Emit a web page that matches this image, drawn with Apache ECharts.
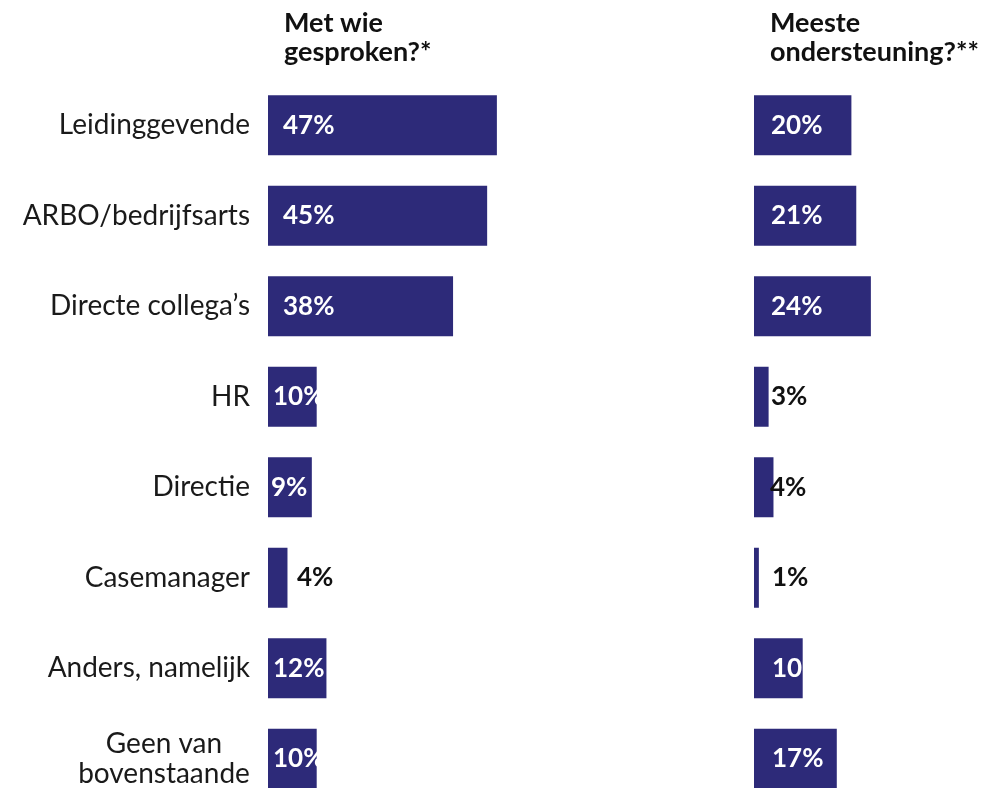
<!DOCTYPE html>
<html>
<head>
<meta charset="utf-8">
<style>
  html, body { margin: 0; padding: 0; background: #fff; overflow: hidden; }
  #main { width: 991px; height: 804px; }
</style>
<script src="https://cdn.jsdelivr.net/npm/echarts@6/dist/echarts.min.js"></script>
</head>
<body>
<div id="main"></div>
<script>
  // categorieën en waarden
  var categories = ['Leidinggevende', 'ARBO/bedrijfsarts', 'Directe collega\u2019s', 'HR',
    'Directie', 'Casemanager', 'Anders, namelijk', 'Geen van\nbovenstaande'];
  var gesproken = [47, 45, 38, 10, 9, 4, 12, 10];
  var ondersteuning = [20, 21, 24, 3, 4, 1, 10, 17];
  var titleLeft = 'Met wie\ngesproken?*';
  var titleRight = 'Meeste\nondersteuning?**';

  // label x-positie binnen/naast de balk
  var labelXLeft = [15, 15, 15, 5, 3, 29, 5, 5];
  var labelXRight = [17, 17, 17, 17, 16, 18, 18, 18];

  var barColor = '#2d2a79';
  var font = 'Lato, "Noto Sans", sans-serif';

  function buildData(values, xs) {
    return values.map(function (v, i) {
      return {
        value: v,
        label: {
          position: [xs[i], '50%'],
          verticalAlign: 'middle',
          align: 'left',
          color: v >= 9 ? '#fff' : '#111'
        }
      };
    });
  }

  function labelFormatter(val) {
    if (val.indexOf('\n') >= 0) {
      return val.split('\n').map(function (s) { return '{c|' + s + '}'; }).join('\n');
    }
    return val;
  }

  var chart = echarts.init(document.getElementById('main'));
  var titleStyle = {fontFamily: font, fontSize: 27, fontWeight: 'bold', color: '#111', lineHeight: 29};
  var opt = {
    animation: false,
    title: [
      {text: titleLeft, left: 279, top: 4, textStyle: titleStyle},
      {text: titleRight, left: 765, top: 4, textStyle: titleStyle}
    ],
    // de onderste balk loopt tot de rand van het venster
    grid: [
      {left: 268, top: 80, width: 243.5, bottom: 0},
      {left: 754, top: 80, width: 146.1, bottom: 0}
    ],
    xAxis: [
      {gridIndex: 0, type: 'value', min: 0, max: 50, show: false},
      {gridIndex: 1, type: 'value', min: 0, max: 30, show: false}
    ],
    yAxis: [
      {
        gridIndex: 0, type: 'category', data: categories, inverse: true,
        axisLine: {show: false}, axisTick: {show: false}, splitLine: {show: false},
        axisLabel: {
          margin: 18, fontFamily: font, fontSize: 28, color: '#1a1a1a', lineHeight: 30,
          formatter: labelFormatter,
          rich: {c: {width: 172, align: 'center', fontFamily: font, fontSize: 28, color: '#1a1a1a', lineHeight: 30}}
        }
      },
      {
        gridIndex: 1, type: 'category', data: categories, inverse: true,
        axisLine: {show: false}, axisTick: {show: false}, splitLine: {show: false},
        axisLabel: {show: false}
      }
    ],
    series: [
      {
        type: 'bar', xAxisIndex: 0, yAxisIndex: 0, barWidth: 60,
        data: buildData(gesproken, labelXLeft),
        itemStyle: {color: barColor},
        label: {show: true, formatter: '{c}%', fontFamily: font, fontSize: 26, fontWeight: 'bold'}
      },
      {
        type: 'bar', xAxisIndex: 1, yAxisIndex: 1, barWidth: 60,
        data: buildData(ondersteuning, labelXRight),
        itemStyle: {color: barColor},
        label: {show: true, formatter: '{c}%', fontFamily: font, fontSize: 26, fontWeight: 'bold'}
      }
    ]
  };
  chart.setOption(opt);
</script>
</body>
</html>
